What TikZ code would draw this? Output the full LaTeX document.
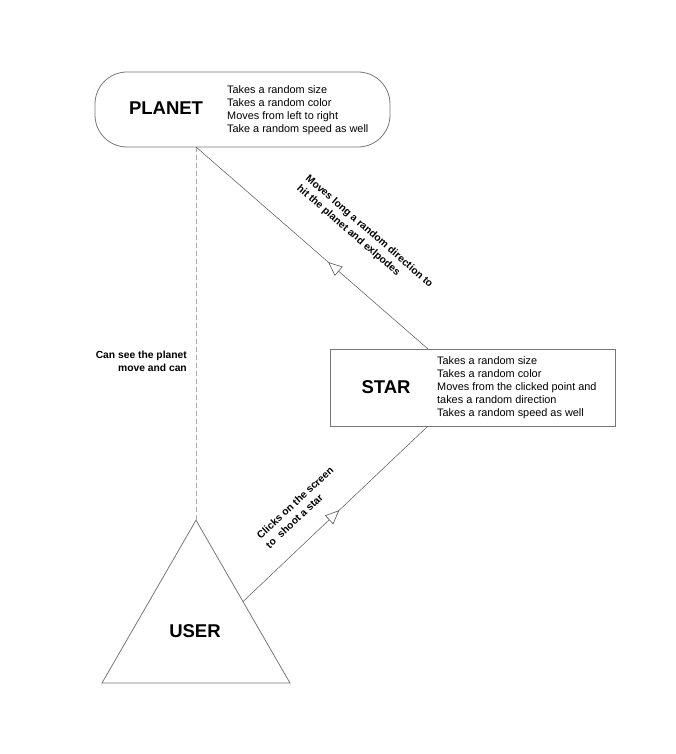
\documentclass[tikz,border=0pt]{standalone}
\usepackage{fontspec}
\setmainfont{Liberation Sans}
\usetikzlibrary{shapes.geometric,arrows.meta,decorations.markings}
\definecolor{shapegray}{HTML}{777777}
\definecolor{linegray}{HTML}{555555}
\definecolor{dashgray}{HTML}{AAAAAA}
\tikzset{
  shapebox/.style={draw=shapegray, line width=0.8pt, inner sep=0pt, outer sep=0pt},
  title/.style={font=\fontsize{18.5}{22}\selectfont\bfseries, inner sep=0pt},
  desc/.style={font=\fontsize{10.9}{13}\selectfont, align=left, inner sep=0pt, anchor=west},
  lab/.style={font=\fontsize{10.3}{13}\selectfont\bfseries, inner sep=0pt},
  conn/.style={draw=linegray, line width=0.5pt},
  openarrow/.style={postaction={decorate}, decoration={markings,
     mark=at position #1 with {\arrow{Triangle[open, length=14pt, width=12pt, fill=white, line width=0.6pt]}}}},
}
\begin{document}
\begin{tikzpicture}[x=1pt,y=-1pt]
\useasboundingbox (0,0) rectangle (676,754);
% shapes
\node[shapebox, rounded corners=32pt, minimum width=295pt, minimum height=75pt] (planet) at (242.5,109.5) {};
\node[shapebox, minimum width=285pt, minimum height=77pt] (star) at (472.5,387.5) {};
\node[shapebox, regular polygon, regular polygon sides=3, minimum size=217pt] (user) at (196,628.7) {};
% texts
\node[title] (planetT) at (166,108) {PLANET};
\node[desc] (planetD) at (227,110) {Takes a random size\\Takes a random color\\Moves from left to right\\Take a random speed as well};
\node[title] (starT) at (386,387) {STAR};
\node[desc] (starD) at (437,388) {Takes a random size\\Takes a random color\\Moves from the clicked point and\\takes a random direction\\Takes a random speed as well};
\node[title] (userT) at (195,631) {USER};
% connectors
\draw[draw=dashgray, line width=0.8pt, dash pattern=on 5pt off 3pt] ([xshift=-46.5pt]planet.south) -- (user.corner 1);
\draw[conn, openarrow=0.43] ([xshift=-44.5pt]star.north) -- ([xshift=-46.5pt]planet.south);
\draw[conn, openarrow=0.52] (user.side 3) -- ([xshift=-44.5pt]star.south);
% labels
\node[lab, align=right, anchor=east] (seeL) at (187,361.5) {Can see the planet\\move and can};
\node[lab, align=left, rotate=-41] (movesL) at (364.7,236.4) {Moves long a random direction to\\hit the planet and exlpodes};
\node[lab, align=left, rotate=43] (clickL) at (299.5,507.4) {Clicks on the screen\\to\ \ shoot a star};
\end{tikzpicture}
\end{document}
